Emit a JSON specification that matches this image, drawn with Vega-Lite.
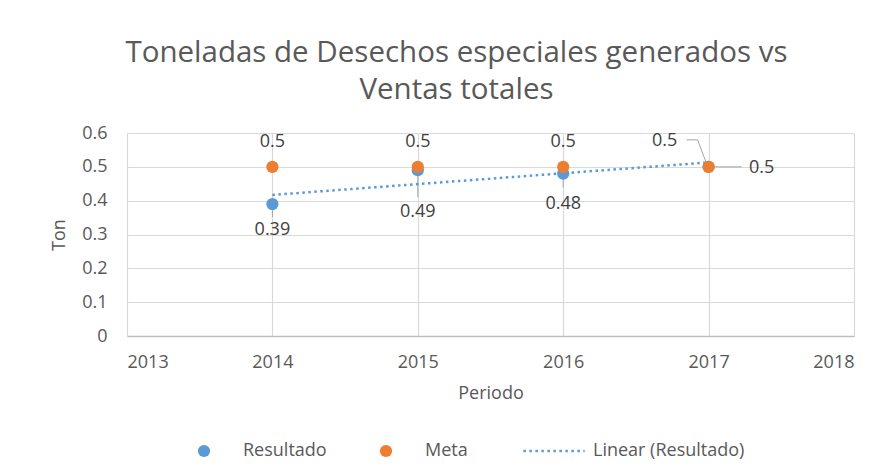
{
  "$schema": "https://vega.github.io/schema/vega-lite/v6.json",
  "autosize": {"type": "none"},
  "width": 727,
  "height": 203,
  "padding": {"left": 127, "top": 133, "right": 39, "bottom": 136},
  "background": "white",
  "title": {
    "text": ["Toneladas de Desechos especiales generados vs", "Ventas totales"],
    "anchor": "middle",
    "frame": "group",
    "dx": -34,
    "offset": 19,
    "fontSize": 29.5,
    "fontWeight": "normal",
    "font": "Open Sans",
    "color": "#595959",
    "lineHeight": 37
  },
  "data": {
    "values": [
      {"periodo": 2014, "serie": "Resultado", "valor": 0.39},
      {"periodo": 2015, "serie": "Resultado", "valor": 0.49},
      {"periodo": 2016, "serie": "Resultado", "valor": 0.48},
      {"periodo": 2017, "serie": "Resultado", "valor": 0.5},
      {"periodo": 2014, "serie": "Meta", "valor": 0.5},
      {"periodo": 2015, "serie": "Meta", "valor": 0.5},
      {"periodo": 2016, "serie": "Meta", "valor": 0.5},
      {"periodo": 2017, "serie": "Meta", "valor": 0.5}
    ]
  },
  "encoding": {
    "x": {
      "field": "periodo", "type": "quantitative",
      "scale": {"domain": [2013, 2018], "nice": false, "zero": false},
      "axis": {"title": "Periodo", "values": [2013, 2014, 2015, 2016, 2017, 2018], "format": "d",
               "grid": true, "domain": true, "domainColor": "#bfbfbf", "domainWidth": 1.5, "ticks": false,
               "labelPadding": 17, "titlePadding": 13}
    },
    "y": {
      "field": "valor", "type": "quantitative",
      "scale": {"domain": [0, 0.6], "nice": false},
      "axis": {"title": "Ton", "values": [0, 0.1, 0.2, 0.3, 0.4, 0.5, 0.6], "format": "~g",
               "grid": true, "domain": false, "ticks": false, "labelPadding": 20, "titlePadding": 13}
    }
  },
  "layer": [
    {
      "transform": [{"filter": "datum.periodo == 2014 && datum.serie == 'Resultado'"}],
      "mark": {"type": "rule", "color": "#a6a6a6", "strokeWidth": 1, "yOffset": 2, "y2Offset": 13},
      "encoding": {"y2": {"field": "valor"}}
    },
    {
      "transform": [{"filter": "datum.periodo == 2015 && datum.serie == 'Resultado'"}],
      "mark": {"type": "rule", "color": "#a6a6a6", "strokeWidth": 1, "yOffset": -2, "y2Offset": 27},
      "encoding": {"y2": {"field": "valor"}}
    },
    {
      "transform": [{"filter": "datum.periodo == 2016 && datum.serie == 'Resultado'"}],
      "mark": {"type": "rule", "color": "#a6a6a6", "strokeWidth": 1, "yOffset": 0, "y2Offset": 14},
      "encoding": {"y2": {"field": "valor"}}
    },
    {
      "transform": [{"filter": "datum.periodo == 2017 && datum.serie == 'Resultado'"}],
      "mark": {"type": "rule", "color": "#a6a6a6", "strokeWidth": 1, "xOffset": -22, "x2Offset": -11, "yOffset": -27, "y2Offset": -27},
      "encoding": {"x2": {"field": "periodo"}, "y2": {"field": "valor"}}
    },
    {
      "transform": [{"filter": "datum.periodo == 2017 && datum.serie == 'Resultado'"}],
      "mark": {"type": "rule", "color": "#a6a6a6", "strokeWidth": 1, "xOffset": -11, "x2Offset": -2, "yOffset": -27, "y2Offset": -3},
      "encoding": {"x2": {"field": "periodo"}, "y2": {"field": "valor"}}
    },
    {
      "transform": [{"filter": "datum.periodo == 2017 && datum.serie == 'Meta'"}],
      "mark": {"type": "rule", "color": "#a6a6a6", "strokeWidth": 1, "xOffset": 2, "x2Offset": 33, "yOffset": 0, "y2Offset": 0},
      "encoding": {"x2": {"field": "periodo"}, "y2": {"field": "valor"}}
    },
    {
      "transform": [{"filter": "datum.serie == 'Resultado'"}],
      "mark": {"type": "circle", "size": 150, "opacity": 1},
      "encoding": {
        "color": {
          "field": "serie", "type": "nominal",
          "scale": {"domain": ["Resultado", "Meta", "Linear (Resultado)"], "range": ["#5B9BD5", "#ED7D31", "#5B9BD5"]},
          "legend": {
            "title": null,
            "orient": "none",
            "direction": "horizontal",
            "legendX": 68,
            "legendY": 309,
            "labelFontSize": 18,
            "labelColor": "#595959",
            "labelFont": "Open Sans",
            "symbolSize": 150,
            "labelOffset": 30,
            "columnPadding": 50,
            "symbolOpacity": 1,
            "symbolType": {"expr": "datum.value === 'Linear (Resultado)' ? 'M-5,0L5,0' : 'circle'"},
            "symbolStrokeColor": {"expr": "datum.value === 'Linear (Resultado)' ? '#5B9BD5' : 'transparent'"},
            "symbolStrokeWidth": {"expr": "datum.value === 'Linear (Resultado)' ? 2.5 : 0"},
            "symbolDash": {"expr": "datum.value === 'Linear (Resultado)' ? [2.5, 3.5] : [1, 0]"}
          }
        }
      }
    },
    {
      "transform": [
        {"filter": "datum.serie == 'Resultado'"},
        {"regression": "valor", "on": "periodo", "method": "linear"}
      ],
      "mark": {"type": "line", "strokeDash": [2.5, 3.5], "strokeWidth": 2.5},
      "encoding": {
        "color": {"datum": "Linear (Resultado)", "type": "nominal"}
      }
    },
    {
      "transform": [{"filter": "datum.serie == 'Meta'"}],
      "mark": {"type": "circle", "size": 150, "opacity": 1},
      "encoding": {"color": {"field": "serie", "type": "nominal"}}
    },
    {
      "transform": [{"filter": "datum.serie == 'Meta' && datum.periodo < 2017"}],
      "mark": {"type": "text", "dy": -25, "fontSize": 18, "color": "#404040"},
      "encoding": {"text": {"field": "valor", "type": "quantitative", "format": "~g"}}
    },
    {
      "transform": [{"filter": "datum.serie == 'Resultado' && datum.periodo == 2014"}],
      "mark": {"type": "text", "dy": 26, "fontSize": 18, "color": "#404040"},
      "encoding": {"text": {"field": "valor", "type": "quantitative", "format": "~g"}}
    },
    {
      "transform": [{"filter": "datum.serie == 'Resultado' && datum.periodo == 2015"}],
      "mark": {"type": "text", "dy": 42, "fontSize": 18, "color": "#404040"},
      "encoding": {"text": {"field": "valor", "type": "quantitative", "format": "~g"}}
    },
    {
      "transform": [{"filter": "datum.serie == 'Resultado' && datum.periodo == 2016"}],
      "mark": {"type": "text", "dy": 30, "fontSize": 18, "color": "#404040"},
      "encoding": {"text": {"field": "valor", "type": "quantitative", "format": "~g"}}
    },
    {
      "transform": [{"filter": "datum.serie == 'Resultado' && datum.periodo == 2017"}],
      "mark": {"type": "text", "dx": -44, "dy": -26, "fontSize": 18, "color": "#404040"},
      "encoding": {"text": {"field": "valor", "type": "quantitative", "format": "~g"}}
    },
    {
      "transform": [{"filter": "datum.serie == 'Meta' && datum.periodo == 2017"}],
      "mark": {"type": "text", "dx": 53, "dy": 1, "fontSize": 18, "color": "#404040"},
      "encoding": {"text": {"field": "valor", "type": "quantitative", "format": "~g"}}
    }
  ],
  "config": {
    "font": "Open Sans",
    "view": {"stroke": null},
    "axis": {
      "labelFontSize": 18,
      "labelColor": "#595959",
      "labelFont": "Open Sans",
      "titleFontSize": 18,
      "titleColor": "#595959",
      "titleFont": "Open Sans",
      "titleFontWeight": "normal",
      "gridColor": "#d9d9d9",
      "gridWidth": 1.2
    }
  }
}
